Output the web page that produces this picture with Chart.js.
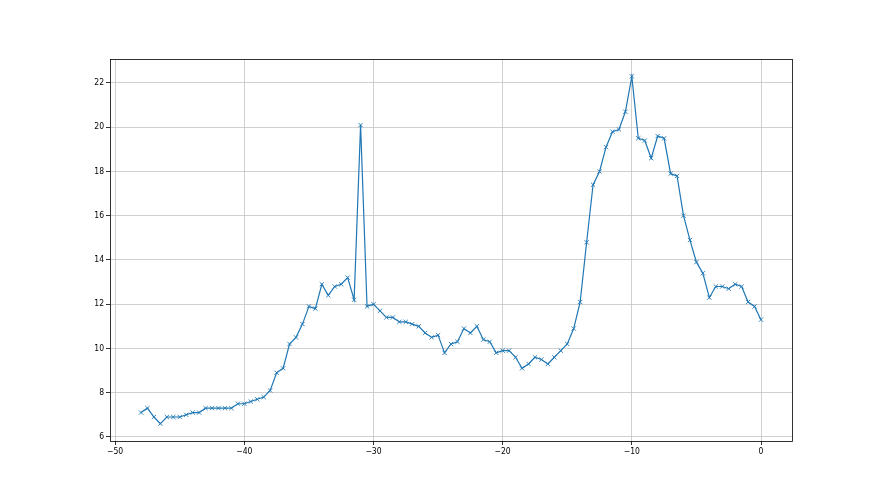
<!DOCTYPE html>
<html>
<head>
<meta charset="utf-8">
<script src="https://cdn.jsdelivr.net/npm/chart.js@4/dist/chart.umd.min.js"></script>
<style>
html,body{margin:0;padding:0;background:#fff;}
#wrap{width:880px;height:495px;position:relative;}
</style>
</head>
<body>
<div id="wrap"><canvas id="c" width="880" height="495"></canvas></div>
<script>
const xValues = [];
for (let i = 0; i <= 96; i++) xValues.push(-48 + i * 0.5);
const yValues = [
  7.1, 7.3, 6.9, 6.6, 6.9, 6.9, 6.9, 7.0, 7.1, 7.1,
  7.3, 7.3, 7.3, 7.3, 7.3, 7.5, 7.5, 7.6, 7.7, 7.8,
  8.1, 8.9, 9.1, 10.2, 10.5,
  11.1, 11.9, 11.8, 12.9, 12.4, 12.8, 12.9, 13.2, 12.2, 20.1,
  11.9, 12.0, 11.7, 11.4, 11.4, 11.2, 11.2, 11.1, 11.0, 10.7,
  10.5, 10.6, 9.8, 10.2, 10.3, 10.9, 10.7, 11.0,
  10.4, 10.3, 9.8, 9.9, 9.9, 9.6, 9.1, 9.3, 9.6, 9.5,
  9.3, 9.6, 9.9, 10.2, 10.9, 12.1,
  14.8, 17.4, 18.0, 19.1, 19.8, 19.9, 20.7, 22.3, 19.5, 19.4,
  18.6, 19.6, 19.5, 17.9, 17.8, 16.0, 14.9, 13.9, 13.4, 12.3,
  12.8, 12.8, 12.7, 12.9, 12.8, 12.1, 11.9, 11.3
];
const xTicks = [-50, -40, -30, -20, -10, 0];
const yTicks = [6, 8, 10, 12, 14, 16, 18, 20, 22];
const xRange = [-50.4, 2.4];
const yRange = [5.815, 23.085];

const points = xValues.map((x, i) => ({x: x, y: yValues[i]}));

const frame = {
  id: 'frame',
  afterDraw(chart) {
    const a = chart.chartArea, ctx = chart.ctx;
    ctx.save();
    ctx.strokeStyle = '#000';
    ctx.lineWidth = 0.8;
    ctx.strokeRect(Math.round(a.left) + 0.5, Math.round(a.top) + 0.5,
                   Math.round(a.right - a.left), Math.round(a.bottom - a.top));
    ctx.restore();
  }
};

const tickFont = {family: 'DejaVu Sans Condensed, DejaVu Sans', size: 8.5};

new Chart(document.getElementById('c'), {
  type: 'line',
  data: {
    datasets: [{
      data: points,
      borderColor: '#1f77b4',
      backgroundColor: '#1f77b4',
      borderWidth: 1.2,
      pointStyle: 'crossRot',
      pointRadius: 3,
      pointBorderWidth: 0.9,
      pointHoverRadius: 3,
      tension: 0,
      fill: false
    }]
  },
  options: {
    responsive: false,
    animation: false,
    events: [],
    layout: {padding: {left: 0, top: 59, right: 88, bottom: 0}},
    plugins: {legend: {display: false}, tooltip: {enabled: false}},
    scales: {
      x: {
        type: 'linear',
        min: xRange[0], max: xRange[1],
        afterBuildTicks: s => { s.ticks = xTicks.map(v => ({value: v})); },
        afterFit: s => { s.height = 54; },
        grid: {color: '#c4c4c4', lineWidth: 0.8, tickLength: 4, tickColor: '#000', drawOnChartArea: true},
        border: {display: false},
        ticks: {font: tickFont, color: '#000', padding: 2, maxRotation: 0,
                callback: v => (v < 0 ? '\u2212' + Math.abs(v) : String(v))}
      },
      y: {
        type: 'linear',
        min: yRange[0], max: yRange[1],
        afterBuildTicks: s => { s.ticks = yTicks.map(v => ({value: v})); },
        afterFit: s => { s.width = 110; },
        grid: {color: '#c4c4c4', lineWidth: 0.8, tickLength: 4, tickColor: '#000'},
        border: {display: false},
        ticks: {font: tickFont, color: '#000', padding: 2}
      }
    }
  },
  plugins: [frame]
});
</script>
</body>
</html>
